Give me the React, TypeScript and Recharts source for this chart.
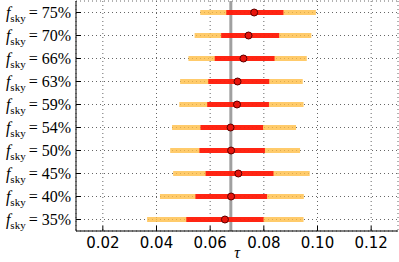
import {
  ScatterChart,
  Scatter,
  XAxis,
  YAxis,
  CartesianGrid,
  ReferenceLine,
  ErrorBar,
} from "recharts";

const skyLabels = ["75%", "70%", "66%", "63%", "59%", "54%", "50%", "45%", "40%", "35%"];
const tauBest = [0.0764, 0.0743, 0.0724, 0.0702, 0.07, 0.0676, 0.0678, 0.0705, 0.0678, 0.0655];
const lo1 = [0.066, 0.0641, 0.0617, 0.0593, 0.0589, 0.0564, 0.056, 0.0583, 0.0545, 0.0511];
const hi1 = [0.0873, 0.0857, 0.084, 0.082, 0.0819, 0.0797, 0.0804, 0.0836, 0.0812, 0.0799];
const lo2 = [0.0563, 0.0542, 0.0519, 0.0488, 0.0485, 0.0458, 0.0451, 0.0462, 0.0413, 0.0365];
const hi2 = [0.0994, 0.0977, 0.096, 0.0945, 0.0948, 0.092, 0.0935, 0.0971, 0.0949, 0.0948];
const xTicks = [0.02, 0.04, 0.06, 0.08, 0.1, 0.12];
const tauFid = 0.0677;

const data = skyLabels.map((_, i) => ({
  row: i,
  tau: tauBest[i],
  err1: [tauBest[i] - lo1[i], hi1[i] - tauBest[i]],
  err2: [tauBest[i] - lo2[i], hi2[i] - tauBest[i]],
}));

const serif = "'Liberation Serif', 'DejaVu Serif', serif";
const sans = "'DejaVu Sans', sans-serif";

const SkyTick = (props: any) => {
  const { x, y, payload } = props;
  const label = skyLabels[payload.value];
  return (
    <text x={x} y={y} dy={5} textAnchor="end" fontFamily={serif} fontSize={16} fill="#000">
      <tspan fontStyle="italic">f</tspan>
      <tspan dy={4} fontSize={11}>sky</tspan>
      <tspan dy={-4} dx={3}>=</tspan>
      <tspan dx={4}>{label}</tspan>
    </text>
  );
};

const Dot = (props: any) => {
  const { cx, cy } = props;
  return <circle cx={cx} cy={cy} r={3.5} fill="#e8140c" stroke="#5a0000" strokeWidth={1} />;
};

export default function App() {
  return (
    <div style={{ position: "absolute", left: 0, top: 0 }}>
      <ScatterChart width={399} height={262} margin={{ top: 1, right: 1, bottom: 0, left: 0 }}>
        <CartesianGrid stroke="#666" strokeDasharray="1 3" />
        <XAxis
          type="number"
          dataKey="tau"
          domain={[0.01, 0.13]}
          ticks={xTicks}
          tickFormatter={(v: number) => v.toFixed(2)}
          allowDataOverflow
          height={31}
          tickSize={-5}
          tickMargin={11}
          stroke="#000"
          tick={{ fill: "#000", fontSize: 15, fontFamily: sans }}
          label={{ value: "τ", position: "insideBottom", offset: 4, fontSize: 16, fontStyle: "italic", fontFamily: serif, fill: "#000" }}
        />
        <XAxis
          xAxisId="top"
          orientation="top"
          type="number"
          dataKey="tau"
          domain={[0.01, 0.13]}
          ticks={xTicks}
          allowDataOverflow
          height={0}
          tickSize={-5}
          tick={false}
          stroke="#000"
        />
        <YAxis
          type="number"
          dataKey="row"
          domain={[-0.5, 9.5]}
          ticks={[0, 1, 2, 3, 4, 5, 6, 7, 8, 9]}
          reversed
          width={76}
          tickSize={-5}
          tickMargin={10}
          stroke="#000"
          tick={<SkyTick />}
          interval={0}
        />
        <YAxis
          yAxisId="right"
          orientation="right"
          type="number"
          dataKey="row"
          domain={[-0.5, 9.5]}
          ticks={[0, 1, 2, 3, 4, 5, 6, 7, 8, 9]}
          reversed
          width={0}
          tickSize={-5}
          tick={false}
          stroke="#000"
        />
        <ReferenceLine x={tauFid} stroke="#888" strokeWidth={3} strokeOpacity={0.8} />
        <Scatter data={data} shape={<Dot />} isAnimationActive={false}>
          <ErrorBar dataKey="err2" direction="x" width={0} stroke="rgba(255,190,70,0.8)" strokeWidth={5} />
          <ErrorBar dataKey="err1" direction="x" width={0} stroke="rgba(255,0,0,0.82)" strokeWidth={5} />
        </Scatter>
      </ScatterChart>
    </div>
  );
}
